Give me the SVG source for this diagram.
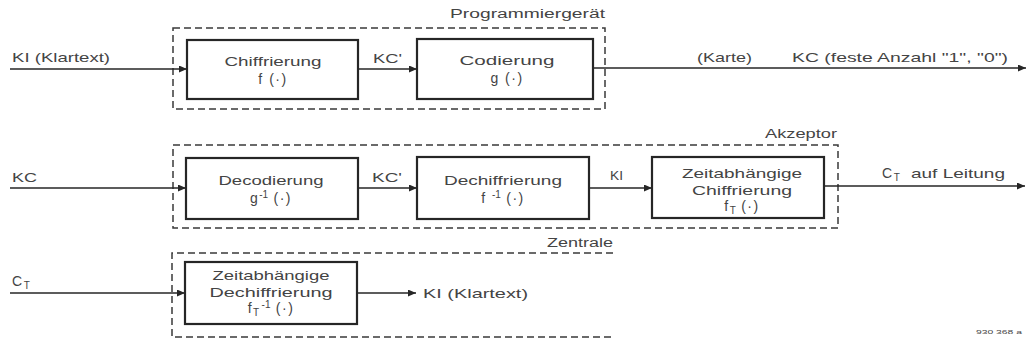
<svg xmlns="http://www.w3.org/2000/svg" width="1034" height="349" viewBox="0 0 1034 349">
<style>
  .t { font-family: "Liberation Sans", Arial, sans-serif; font-size: 13px; fill: #444444; }
  .m { text-anchor: middle; }
  .lbl { font-size: 12px; }
  .fn { font-size: 14px; letter-spacing: 1.5px; }
  .sub { font-size: 10px; letter-spacing: 0; }
  .box { fill: #ffffff; stroke: #262626; stroke-width: 2.2; }
  .grp { fill: none; stroke: #3a3a3a; stroke-width: 1.5; stroke-dasharray: 7 4; }
  .ca { fill: none; stroke: #262626; stroke-width: 1.6; marker-end: url(#arr); }
</style>
<defs>
  <marker id="arr" markerWidth="8" markerHeight="7" refX="8" refY="3.5" orient="auto" markerUnits="userSpaceOnUse">
    <path d="M0,0 L8,3.5 L0,7 z" fill="#262626"/>
  </marker>
</defs>
<rect width="1034" height="349" fill="#ffffff"/>

<!-- group frames -->
<g id="programmiergeraet">
  <rect class="grp" x="173" y="28" width="432" height="81"/>
  <text class="t lbl" x="450" y="18" textLength="155" lengthAdjust="spacingAndGlyphs">Programmiergerät</text>
</g>
<g id="akzeptor">
  <rect class="grp" x="173" y="145" width="665" height="83"/>
  <text class="t lbl" x="765" y="138" textLength="72" lengthAdjust="spacingAndGlyphs">Akzeptor</text>
</g>
<g id="zentrale">
  <path class="grp" d="M613,253 H172 V337 H613"/>
  <text class="t lbl" x="547" y="247" textLength="66" lengthAdjust="spacingAndGlyphs">Zentrale</text>
</g>

<!-- connectors -->
<g id="connectors">
  <line class="ca" x1="10" y1="69" x2="187" y2="69"/>
  <line class="ca" x1="358" y1="69" x2="417" y2="69"/>
  <line class="ca" x1="593" y1="68" x2="1026" y2="68"/>
  <line class="ca" x1="10" y1="188" x2="186" y2="188"/>
  <line class="ca" x1="358" y1="188" x2="417" y2="188"/>
  <line class="ca" x1="589" y1="188" x2="652" y2="188"/>
  <line class="ca" x1="824" y1="186" x2="1025" y2="186"/>
  <line class="ca" x1="10" y1="293" x2="185" y2="293"/>
  <line class="ca" x1="357" y1="293" x2="416" y2="293"/>
</g>

<!-- connector labels -->
<g id="labels">
  <text class="t" x="12" y="62" textLength="98" lengthAdjust="spacingAndGlyphs">KI  (Klartext)</text>
  <text class="t" x="373" y="63" textLength="29" lengthAdjust="spacingAndGlyphs">KC'</text>
  <text class="t" x="697" y="62" textLength="55" lengthAdjust="spacingAndGlyphs">(Karte)</text>
  <text class="t" x="792" y="62" textLength="216" lengthAdjust="spacingAndGlyphs">KC  (feste Anzahl "1", "0")</text>
  <text class="t" x="12" y="182" textLength="25" lengthAdjust="spacingAndGlyphs">KC</text>
  <text class="t" x="372" y="182" textLength="30" lengthAdjust="spacingAndGlyphs">KC'</text>
  <text class="t" x="610" y="180" textLength="13" lengthAdjust="spacingAndGlyphs">KI</text>
  <text class="t fn" x="882" y="178">C<tspan class="sub" dy="3">T</tspan></text>
  <text class="t" x="911" y="178" textLength="94" lengthAdjust="spacingAndGlyphs">auf Leitung</text>
  <text class="t fn" x="12" y="286">C<tspan class="sub" dy="3">T</tspan></text>
  <text class="t" x="423" y="298" textLength="105" lengthAdjust="spacingAndGlyphs">KI  (Klartext)</text>
</g>

<!-- nodes -->
<g id="chiffrierung">
  <rect class="box" x="187" y="40" width="171" height="59"/>
  <text class="t m" x="273" y="66" textLength="97" lengthAdjust="spacingAndGlyphs">Chiffrierung</text>
  <text class="t m fn" x="273" y="84">f (·)</text>
</g>
<g id="codierung">
  <rect class="box" x="417" y="39" width="176" height="60"/>
  <text class="t m" x="507" y="65" textLength="95" lengthAdjust="spacingAndGlyphs">Codierung</text>
  <text class="t m fn" x="507" y="83">g (·)</text>
</g>
<g id="decodierung">
  <rect class="box" x="186" y="158" width="172" height="61"/>
  <text class="t m" x="271" y="185" textLength="105" lengthAdjust="spacingAndGlyphs">Decodierung</text>
  <text class="t m fn" x="271" y="203">g<tspan class="sub" dy="-5">-1</tspan><tspan dy="5"> (·)</tspan></text>
</g>
<g id="dechiffrierung">
  <rect class="box" x="417" y="157" width="172" height="62"/>
  <text class="t m" x="503" y="185" textLength="118" lengthAdjust="spacingAndGlyphs">Dechiffrierung</text>
  <text class="t m fn" x="503" y="203">f <tspan class="sub" dy="-5">-1</tspan><tspan dy="5"> (·)</tspan></text>
</g>
<g id="zeit-chiffrierung">
  <rect class="box" x="652" y="157" width="172" height="61"/>
  <text class="t m" x="742" y="178" textLength="120" lengthAdjust="spacingAndGlyphs">Zeitabhängige</text>
  <text class="t m" x="742" y="195" textLength="100" lengthAdjust="spacingAndGlyphs">Chiffrierung</text>
  <text class="t m fn" x="742" y="211">f<tspan class="sub" dy="3">T</tspan><tspan dy="-3"> (·)</tspan></text>
</g>
<g id="zeit-dechiffrierung">
  <rect class="box" x="185" y="262" width="172" height="62"/>
  <text class="t m" x="271" y="280" textLength="117" lengthAdjust="spacingAndGlyphs">Zeitabhängige</text>
  <text class="t m" x="271" y="297" textLength="123" lengthAdjust="spacingAndGlyphs">Dechiffrierung</text>
  <text class="t m fn" x="271" y="313">f<tspan class="sub" dy="3">T</tspan><tspan class="sub" dy="-8" dx="3">-1</tspan><tspan dy="5"> (·)</tspan></text>
</g>

<text class="t" x="976" y="334" style="font-size:6px" textLength="46" lengthAdjust="spacingAndGlyphs">930 368 a</text>
</svg>
